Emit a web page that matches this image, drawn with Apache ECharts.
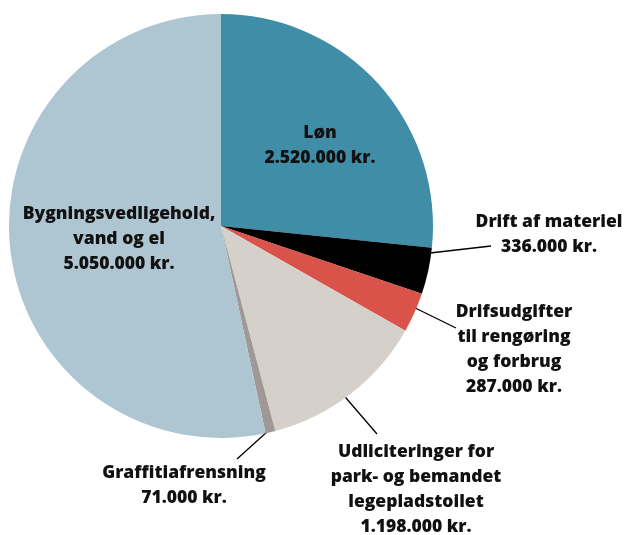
<!DOCTYPE html>
<html>
<head>
<meta charset="utf-8">
<script src="https://cdn.jsdelivr.net/npm/echarts@6/dist/echarts.min.js"></script>
<style>
    html, body { margin: 0; padding: 0; background: #fff; }
    #chart { width: 624px; height: 535px; }
</style>
</head>
<body>
<div id="chart"></div>
<script>
// udgiftsposter (kr.)
let names = [
    'Løn',
    'Drift af materiel',
    'Drifsudgifter\ntil rengøring\nog forbrug',
    'Udliciteringer for\npark- og bemandet\nlegepladstoilet',
    'Graffitiafrensning',
    'Bygningsvedligehold,\nvand og el'
];
let values = [2520000, 336000, 287000, 1198000, 71000, 5050000];
let colors = ['#3f8da7', '#000000', '#d9534b', '#d6d0cb', '#9f9896', '#aec6d2'];

// label placement: [x, y] of label centre, and leader line [start, end] (null = inside, no line)
let labelPos = [
    [320, 146],
    [549, 235],
    [514, 350],
    [416, 490],
    [184, 486],
    [119, 239]
];
let leaderLines = [
    null,
    [[430, 253], [491, 246]],
    [[403, 302], [456, 328]],
    [[340, 391], [377, 434]],
    [[268, 431], [237, 459]],
    null
];

let fmt = function (v) {
    return String(v).replace(/\B(?=(\d{3})+(?!\d))/g, '.') + ' kr.';
};

let chart = echarts.init(document.getElementById('chart'));

let pieData = names.map((n, i) => ({
    name: n,
    value: values[i],
    itemStyle: {color: colors[i]},
    labelLine: {show: leaderLines[i] !== null}
}));

let option = {
    animation: false,
    series: [{
        type: 'pie',
        center: [221, 226],
        radius: [0, 212],
        startAngle: 90,
        clockwise: true,
        avoidLabelOverlap: false,
        data: pieData,
        itemStyle: {borderWidth: 0},
        label: {
            show: true,
            position: 'outside',
            formatter: p => p.name + '\n' + fmt(p.value),
            fontFamily: 'Open Sans',
            fontWeight: 800,
            fontSize: 17.5,
            lineHeight: 25,
            color: '#111',
            align: 'center'
        },
        labelLine: {
            show: true,
            length: 10,
            length2: 10,
            lineStyle: {color: '#000', width: 1.3}
        },
        labelLayout: function (params) {
            let i = params.dataIndex;
            let res = {
                x: labelPos[i][0],
                y: labelPos[i][1],
                align: 'center',
                verticalAlign: 'middle'
            };
            if (leaderLines[i]) {
                let s = leaderLines[i][0], e = leaderLines[i][1];
                res.labelLinePoints = [s, s, e];
            }
            return res;
        }
    }]
};

chart.setOption(option);
</script>
</body>
</html>
